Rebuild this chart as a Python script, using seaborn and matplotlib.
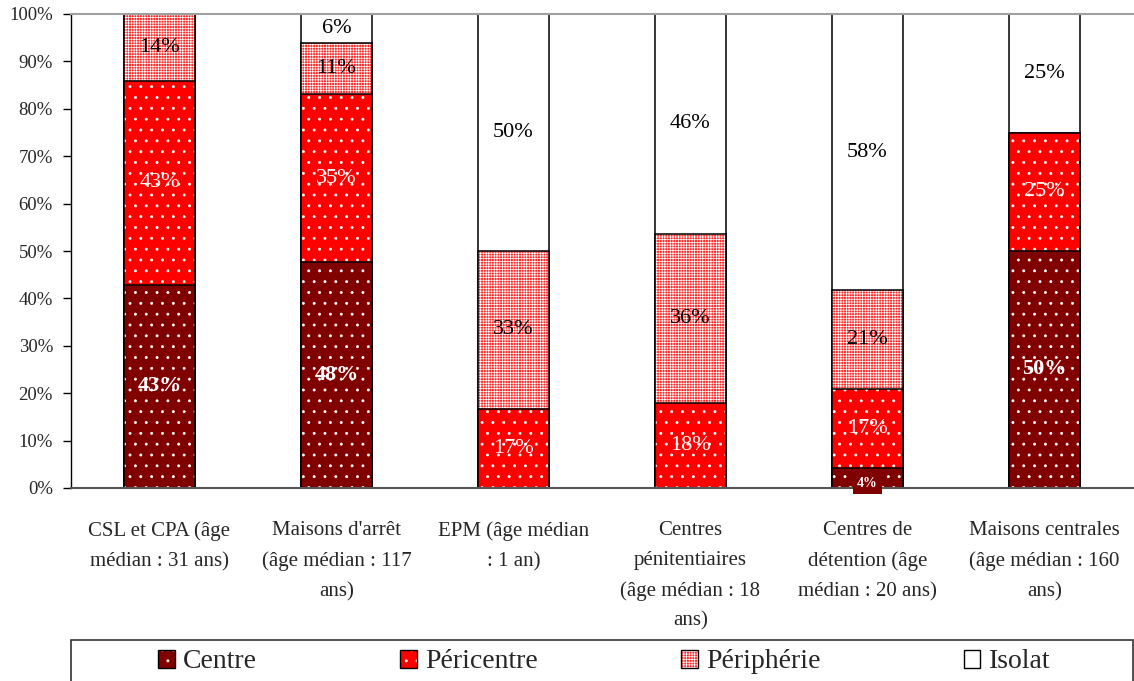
import matplotlib.pyplot as plt
import matplotlib.patches as mpatches
from matplotlib.legend_handler import HandlerTuple
import seaborn as sns
import pandas as pd
import numpy as np

categories = [
    "CSL et CPA (âge\nmédian : 31 ans)",
    "Maisons d'arrêt\n(âge médian : 117\nans)",
    "EPM (âge médian\n: 1 an)",
    "Centres\npénitentiaires\n(âge médian : 18\nans)",
    "Centres de\ndétention (âge\nmédian : 20 ans)",
    "Maisons centrales\n(âge médian : 160\nans)",
]
series = ["Centre", "Péricentre", "Périphérie", "Isolat"]
centre = [42.9, 47.7, 0.0, 0.0, 4.2, 50.0]
pericentre = [42.9, 35.4, 16.7, 17.9, 16.7, 25.0]
peripherie = [14.2, 10.8, 33.3, 35.7, 20.8, 0.0]
isolat = [0.0, 6.1, 50.0, 46.4, 58.3, 25.0]

face = {"Centre": "#800000", "Péricentre": "#ff0000",
        "Périphérie": "#ff2a2a", "Isolat": "#ffffff"}
hatches = {"Centre": "..", "Péricentre": "..", "Périphérie": "++++++++", "Isolat": ""}
txt = {"Centre": ("white", "bold"), "Péricentre": ("white", "normal"),
       "Périphérie": ("black", "normal"), "Isolat": ("black", "normal")}

# hatch spacing depends on dpi, so draw at 130 dpi and scale point sizes
DPI = 130
k = 100 / DPI

df = pd.DataFrame({"cat": categories, "Centre": centre, "Péricentre": pericentre,
                   "Périphérie": peripherie, "Isolat": isolat})
cum = df[series].cumsum(axis=1)

sns.set_style("white")
plt.rcParams['font.family'] = ['Liberation Serif', 'DejaVu Serif']
plt.rcParams['hatch.linewidth'] = 0.5 * k

fig = plt.figure(figsize=(1134 / DPI, 681 / DPI), dpi=DPI)
ax = fig.add_axes([71/1134, 1-488/681, 1062/1134, 474/681])

# stacked bars: draw cumulative totals from the top series down
for s in reversed(series):
    d = pd.DataFrame({"cat": df["cat"], "val": cum[s]})
    sns.barplot(data=d, x="cat", y="val", ax=ax, width=0.4, saturation=1,
                color=face[s], hatch=hatches[s], edgecolor="white",
                linewidth=0, errorbar=None)
    sns.barplot(data=d, x="cat", y="val", ax=ax, width=0.4, fill=False,
                color="black", linewidth=1.1 * k, errorbar=None)

for s in series:
    col, wt = txt[s]
    for i, v in enumerate(df[s]):
        if v <= 0:
            continue
        y = cum[s][i] - v / 2
        lab = "%d%%" % round(v)
        if v < 5:
            ax.text(i, y - 1.2, lab, ha="center", va="center", fontsize=10 * k,
                    color=col, fontweight="bold",
                    bbox=dict(facecolor=face[s], edgecolor="none", pad=3 * k))
        else:
            ax.text(i, y, lab, ha="center", va="center", fontsize=16 * k,
                    color=col, fontweight=wt)

ax.set_xlim(-0.5, 5.5)
ax.set_ylim(0, 100)
ax.set_yticks(np.arange(0, 101, 10))
ax.set_yticklabels(["%d%%" % t for t in range(0, 101, 10)], fontsize=13.5 * k)
ax.set_xticks(np.arange(-0.5, 6, 1), minor=True)
ax.tick_params(axis="x", which="major", length=0, labelsize=15 * k, pad=24 * k)
ax.tick_params(axis="x", which="minor", length=7 * k, width=1 * k, color="#333333", direction="out")
ax.tick_params(axis="y", length=6 * k, width=1 * k, color="black", direction="out", left=True, pad=7 * k)
for lbl in ax.get_xticklabels():
    lbl.set_linespacing(1.75)
ax.set_xlabel("")
ax.set_ylabel("")
ax.spines["right"].set_visible(False)
ax.spines["top"].set_color("#a0a0a0")
ax.spines["top"].set_linewidth(1.5 * k)
ax.spines["left"].set_color("black")
ax.spines["left"].set_linewidth(1 * k)
ax.spines["bottom"].set_color("#555555")
ax.spines["bottom"].set_linewidth(1.5 * k)

handles = []
for s in series:
    f = mpatches.Patch(facecolor=face[s], hatch=hatches[s], edgecolor="white", linewidth=0)
    e = mpatches.Patch(facecolor="none", edgecolor="black", linewidth=1 * k)
    handles.append((f, e))
fig.legend(handles, series, handler_map={tuple: HandlerTuple(ndivide=1)},
           loc="center left", bbox_to_anchor=(144/1134, 1-662/681, 920/1134, 0),
           mode="expand", ncol=4, frameon=False, fontsize=20 * k,
           handlelength=0.6, handleheight=0.6, handletextpad=0.3, borderpad=0)
fig.patches.append(mpatches.Rectangle((71/1134, -0.02), 1062/1134, 41/681 + 0.02,
                                      transform=fig.transFigure, fill=False,
                                      edgecolor="#333333", linewidth=1.2 * k))

fig.savefig("out.png", dpi=DPI)
